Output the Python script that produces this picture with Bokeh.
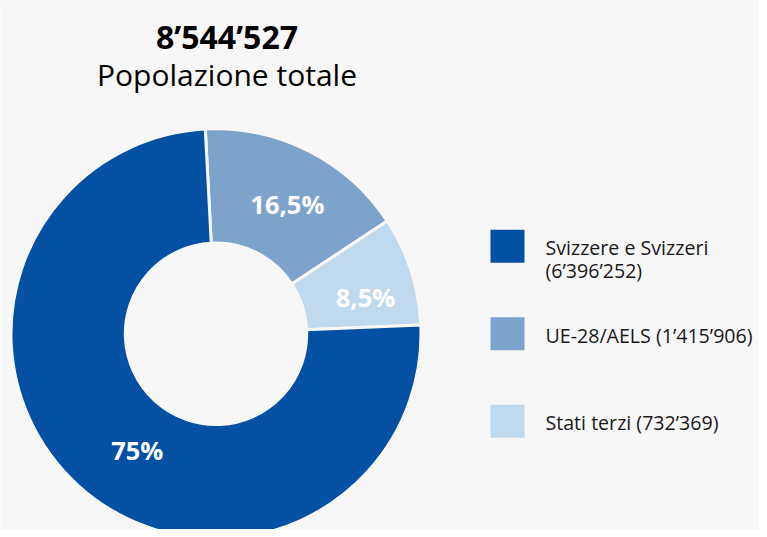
import math
from bokeh.plotting import figure
from bokeh.models import Range1d
from bokeh.core.properties import value
from bokeh.embed import file_html
from bokeh.resources import INLINE

# ---- data ----
categories = ["Svizzere e Svizzeri", "UE-28/AELS", "Stati terzi"]
counts = [6396252, 1415906, 732369]
pct_labels = [75, 16.5, 8.5]
colors = ["#0450a2", "#7ea3cb", "#bfdaef"]
title_caption = "Popolazione totale"

# ---- layout / style constants ----
W, H = 759, 529
BG = "#f7f7f7"
cx, cy = 215.5, 195.7
r_out, r_in = 205, 90.7
start_deg = 93.0  # boundary at top, slices run clockwise
# label placement nudges (degrees, radius) per category
label_nudge_deg = [8.0, -2.0, -4.0]
label_radius = [140, 148, 154]
FONT = "Open Sans"

def fmt(n):
    return f"{n:,}".replace(",", "\u2019")

def fmt_pct(v):
    s = f"{v:g}".replace(".", ",")
    return s + "%"

total = sum(counts)

p = figure(width=W, height=H, x_range=Range1d(0, W), y_range=Range1d(0, H),
           output_backend="svg", toolbar_location=None, min_border=0)
p.axis.visible = False
p.grid.visible = False
p.outline_line_color = None
p.background_fill_color = BG
p.border_fill_color = BG

# slice order clockwise from top: UE, terzi, Svizzere
order = [1, 2, 0]
ang = start_deg
starts, ends, cols, lx, ly, labs = [], [], [], [], [], []
for i in order:
    sweep = 360.0 * counts[i] / total
    a_end = ang
    a_start = ang - sweep
    starts.append(math.radians(a_start))
    ends.append(math.radians(a_end))
    cols.append(colors[i])
    m = math.radians((a_start + a_end) / 2 + label_nudge_deg[i])
    lx.append(cx + label_radius[i] * math.cos(m))
    ly.append(cy + label_radius[i] * math.sin(m))
    labs.append(fmt_pct(pct_labels[i]))
    ang = a_start

n = len(order)
p.annular_wedge(x=[cx] * n, y=[cy] * n, inner_radius=r_in, outer_radius=r_out,
                start_angle=starts, end_angle=ends, fill_color=cols,
                line_color=BG, line_width=3)

p.text(x=lx, y=ly, text=labs, text_color="white", text_font=value(FONT),
       text_font_style="bold", text_font_size="25.5px", text_align="center",
       text_baseline="middle")

# title
tx = 226.5
p.text(x=[tx], y=[H - 35.5], text=[fmt(total)], text_color="black",
       text_font=value(FONT), text_font_style="bold",
       text_font_size="32px", text_align="center", text_baseline="alphabetic")
p.text(x=[tx], y=[H - 74], text=[title_caption], text_color="black",
       text_font=value(FONT), text_font_size="30px",
       text_align="center", text_baseline="alphabetic")

# legend
leg_x, leg_dy = 507, 87.5
leg_y0 = cy + leg_dy
sq_w, sq_h = 34, 33
txt_x = 545
line_h = 23
sq_y = [leg_y0 - k * leg_dy for k in range(len(categories))]
p.rect(x=[leg_x] * len(categories), y=sq_y, width=sq_w, height=sq_h,
       fill_color=colors, line_color=None)
legend_lines = [
    [categories[0], "(" + fmt(counts[0]) + ")"],
    [categories[1] + " (" + fmt(counts[1]) + ")"],
    [categories[2] + " (" + fmt(counts[2]) + ")"],
]
tx_l, ty_l, tt_l = [], [], []
for k, lines in enumerate(legend_lines):
    for j, t in enumerate(lines):
        tx_l.append(txt_x)
        ty_l.append(sq_y[k] - 1.5 - j * line_h)
        tt_l.append(t)
p.text(x=tx_l, y=ty_l, text=tt_l, text_color="#1a1a1a",
       text_font=value(FONT), text_font_size="19.6px",
       text_align="left", text_baseline="middle")

open("out.html", "w").write(file_html(p, INLINE))
